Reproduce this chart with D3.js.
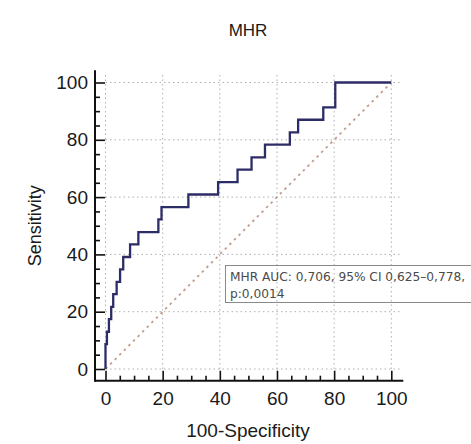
<!DOCTYPE html>
<html>
<head>
<meta charset="utf-8">
<script src="https://cdn.jsdelivr.net/npm/d3@7"></script>
<style>
  html, body { margin: 0; padding: 0; background: #fff; }
  svg { display: block; }
</style>
</head>
<body>
<svg id="chart" width="471" height="444"></svg>
<script>
// ROC curve for MHR: step points (100-Specificity, Sensitivity)
const fpr = [0, 0, 0.5, 0.5, 1.2, 1.2, 2, 2, 2.7, 2.7, 3.9, 3.9, 5.1, 5.1, 6.2, 6.2, 8.6, 8.6,
             11.5, 11.5, 18.5, 18.5, 19.6, 19.6, 29, 29, 39.4, 39.4, 46.2, 46.2, 51.1, 51.1,
             55.8, 55.8, 64.5, 64.5, 67.4, 67.4, 76.2, 76.2, 80.4, 80.4, 100];
const tpr = [0, 8.7, 8.7, 13.0, 13.0, 17.4, 17.4, 21.7, 21.7, 26.1, 26.1, 30.4, 30.4, 34.8, 34.8, 39.1, 39.1, 43.5,
             43.5, 47.8, 47.8, 52.2, 52.2, 56.5, 56.5, 60.9, 60.9, 65.2, 65.2, 69.6, 69.6, 73.9,
             73.9, 78.3, 78.3, 82.6, 82.6, 87.0, 87.0, 91.3, 91.3, 100, 100];
const majorTicks = [0, 20, 40, 60, 80, 100];
const minorTicks = [5, 10, 15, 25, 30, 35, 45, 50, 55, 65, 70, 75, 85, 90, 95];
const titleText = "MHR";
const xTitle = "100-Specificity";
const yTitle = "Sensitivity";
const noteLines = ["MHR AUC: 0,706, 95% CI 0,625\u20130,778,", "p:0,0014"];

const svg = d3.select("#chart");
const x = d3.scaleLinear().domain([0, 100]).range([105.5, 391.3]);
const y = d3.scaleLinear().domain([0, 100]).range([369, 82.5]);
const axisY0 = 380.7, axisX0 = 95;
const fontMain = "'Liberation Sans', Arial, sans-serif";

// grid
const grid = svg.append("g").attr("stroke", "#b0b0b0").attr("stroke-width", 1)
  .attr("stroke-dasharray", "1.5,3");
grid.selectAll("line.v").data(majorTicks).join("line")
  .attr("x1", d => x(d)).attr("x2", d => x(d))
  .attr("y1", y(0)).attr("y2", y(103.5));
grid.selectAll("line.h").data(majorTicks).join("line")
  .attr("y1", d => y(d)).attr("y2", d => y(d))
  .attr("x1", x(0)).attr("x2", x(103.5));

// diagonal reference
svg.append("line")
  .attr("x1", x(0)).attr("y1", y(0)).attr("x2", x(100)).attr("y2", y(100))
  .attr("stroke", "#c29c8c").attr("stroke-width", 1.8).attr("stroke-dasharray", "2.5,4");

// ROC curve
const pts = fpr.map((d, i) => [d, tpr[i]]);
svg.append("path")
  .attr("d", d3.line().x(d => x(d[0])).y(d => y(d[1]))(pts))
  .attr("fill", "none").attr("stroke", "#2c2c66").attr("stroke-width", 2.3);

// axes
const xAxis = svg.append("g").attr("transform", `translate(0,${axisY0})`)
  .call(d3.axisBottom(x).tickValues(majorTicks).tickSize(-10).tickPadding(11));
xAxis.select(".domain").remove();
svg.append("g").attr("transform", `translate(0,${axisY0})`)
  .call(d3.axisBottom(x).tickValues(minorTicks).tickSize(-5).tickFormat(""))
  .select(".domain").remove();
svg.append("line").attr("x1", axisX0).attr("x2", x(104.2)).attr("y1", axisY0).attr("y2", axisY0)
  .attr("stroke", "#111").attr("stroke-width", 2);

const yAxis = svg.append("g").attr("transform", `translate(${axisX0},0)`)
  .call(d3.axisLeft(y).tickValues(majorTicks).tickSize(-10).tickPadding(7));
yAxis.select(".domain").remove();
svg.append("g").attr("transform", `translate(${axisX0},0)`)
  .call(d3.axisLeft(y).tickValues(minorTicks).tickSize(-5).tickFormat(""))
  .select(".domain").remove();
svg.append("line").attr("x1", axisX0).attr("x2", axisX0).attr("y1", axisY0 + 1).attr("y2", y(104.3))
  .attr("stroke", "#111").attr("stroke-width", 2);

svg.selectAll(".tick line").attr("stroke", "#111").attr("stroke-width", 1.6);
svg.selectAll(".tick text").attr("font-family", fontMain).attr("font-size", 19).attr("fill", "#1a1a1a");

// titles
svg.append("text").attr("x", 248).attr("y", 36).attr("text-anchor", "middle")
  .attr("font-family", fontMain).attr("font-size", 17).attr("fill", "#1a1a1a").text(titleText);
svg.append("text").attr("x", 248).attr("y", 437).attr("text-anchor", "middle")
  .attr("font-family", fontMain).attr("font-size", 19).attr("fill", "#1a1a1a").text(xTitle);
svg.append("text").attr("transform", `translate(41,${(y(0) + y(100)) / 2}) rotate(-90)`)
  .attr("text-anchor", "middle")
  .attr("font-family", fontMain).attr("font-size", 18).attr("fill", "#1a1a1a").text(yTitle);

// AUC note
const note = svg.append("g");
note.append("rect").attr("x", 225.5).attr("y", 265.5).attr("width", 260).attr("height", 37)
  .attr("fill", "none").attr("stroke", "#8a8a8a").attr("stroke-width", 1);
note.selectAll("text").data(noteLines).join("text")
  .attr("x", 230).attr("y", (d, i) => 281 + i * 17)
  .attr("font-family", "'DejaVu Sans', Verdana, sans-serif").attr("font-size", 12.2)
  .attr("fill", "#4a4a4a").text(d => d);
</script>
</body>
</html>
